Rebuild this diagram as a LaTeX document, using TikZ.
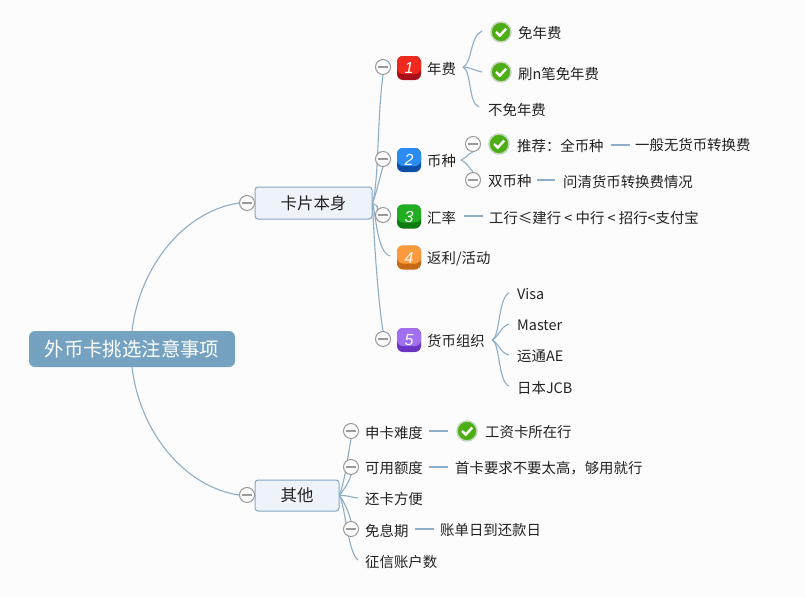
\documentclass[tikz,border=0pt]{standalone}
\usepackage{fontspec}
\setmainfont{Noto Sans CJK SC}
\newfontfamily\numfont{Liberation Sans}
\definecolor{bgc}{HTML}{FCFCFD}
\definecolor{linec}{HTML}{8DAEC6}
\definecolor{rootc}{HTML}{74A2C0}
\definecolor{subc}{HTML}{EEF3F9}
\definecolor{subb}{HTML}{82A8C4}
\definecolor{minusc}{HTML}{9A9A9A}
\definecolor{okc}{HTML}{4CAE14}
\definecolor{okh}{HTML}{C3D6BC}
\definecolor{txt}{HTML}{222222}
\definecolor{rT}{HTML}{EE2A1E}\definecolor{rB}{HTML}{A80F1A}
\definecolor{bT}{HTML}{2A8CF2}\definecolor{bB}{HTML}{0B4FA6}
\definecolor{gT}{HTML}{22AE22}\definecolor{gB}{HTML}{0D7A12}
\definecolor{oT}{HTML}{FA9A3C}\definecolor{oB}{HTML}{C76A18}
\definecolor{pT}{HTML}{A070F0}\definecolor{pB}{HTML}{6A35C0}
\pgfdeclarelayer{lines}
\pgfsetlayers{lines,main}
\tikzset{
  x=1pt,y=-1pt,
  conn/.style={draw=linec,line width=1.1pt},
  stub/.style={draw=linec,line width=1.6pt},
  leaf/.style={anchor=west,inner sep=0pt,text=txt,font=\fontsize{14.4}{16}\selectfont},
  minusbtn/.style={circle,draw=minusc,fill=bgc,line width=1pt,minimum size=15pt,inner sep=0pt,
    path picture={\draw[minusc,line width=1.2pt] ([xshift=-5pt]path picture bounding box.center) -- ([xshift=5pt]path picture bounding box.center);}},
  okicon/.style={circle,draw=okh,fill=okc,line width=1.5pt,minimum size=20pt,inner sep=0pt,
    path picture={\draw[white,line width=2.4pt] ([shift={(-5pt,0pt)}]path picture bounding box.center) -- ([shift={(-1.2pt,-3.6pt)}]path picture bounding box.center) -- ([shift={(5.2pt,3.4pt)}]path picture bounding box.center);}},
  numicon/.style n args={2}{rounded corners=6pt,fill=#2,minimum width=24pt,minimum height=24pt,inner sep=0pt,text=white,
    font=\numfont\itshape\fontsize{16}{16}\selectfont,
    path picture={\fill[#1] (path picture bounding box.north west) rectangle ([yshift=-6pt]path picture bounding box.east);}},
  mainbox/.style={draw=subb,fill=subc,line width=1pt,rounded corners=3pt,inner sep=0pt,text=txt,font=\fontsize{16.4}{18}\selectfont},
}
\begin{document}
\begin{tikzpicture}
\begin{pgfonlayer}{lines}
\path[use as bounding box,fill=bgc] (0,0) rectangle (806,597);
\end{pgfonlayer}
% nodes
\node[rounded corners=6pt,fill=rootc,text=white,minimum width=206pt,minimum height=36pt,inner sep=0pt,font=\fontsize{19.4}{21}\selectfont] (root) at (132,349) {外币卡挑选注意事项};
\node[mainbox,minimum width=117pt,minimum height=32pt] (card) at (313.5,203) {卡片本身};
\node[mainbox,minimum width=84pt,minimum height=31pt] (other) at (297,495.5) {其他};
\node[minusbtn] (cCard) at (247,203) {};
\node[minusbtn] (cOther) at (247,495) {};
% level 2, card
\node[minusbtn] (c1) at (383,67) {};
\node[minusbtn] (c2) at (383,159) {};
\node[minusbtn] (c3) at (383,215) {};
\node[minusbtn] (c5) at (383,339) {};
\coordinate (e4) at (390,256);
\node[numicon={rT}{rB}] (n1) at (409,68) {1};
\node[numicon={bT}{bB}] (n2) at (409,160) {2};
\node[numicon={gT}{gB}] (n3) at (409,216.5) {3};
\node[numicon={oT}{oB}] (n4) at (409,257.5) {4};
\node[numicon={pT}{pB}] (n5) at (409,340) {5};
\node[leaf] (t1) at (427,68.5) {年费};
\node[leaf] (t2) at (427,161.5) {币种};
\node[leaf] (t3) at (427,217.5) {汇率};
\node[leaf] (t4) at (427,258.5) {返利/活动};
\node[leaf] (t5) at (427,340.5) {货币组织};
% annual fee
\coordinate (f1) at (463,67);
\coordinate (e11) at (482,31);
\coordinate (e12) at (482,72);
\coordinate (e13) at (479,107);
\node[okicon] (k11) at (501,32) {};
\node[okicon] (k12) at (501,72) {};
\node[leaf] (t11) at (518,32.5) {免年费};
\node[leaf] (t12) at (518,73.5) {刷n笔免年费};
\node[leaf] (t13) at (488,109.5) {不免年费};
% currency
\coordinate (f2) at (461,160);
\node[minusbtn] (c21) at (473,144) {};
\node[minusbtn] (c22) at (473,180) {};
\node[okicon] (k21) at (499,144) {};
\node[leaf] (t21) at (517,145.5) {推荐：全币种};
\node[leaf] (t22) at (488,181.5) {双币种};
\node[leaf] (t211) at (635,145.5) {一般无货币转换费};
\node[leaf] (t221) at (563,181.5) {问清货币转换费情况};
\coordinate (a21) at (611,145); \coordinate (b21) at (630,145);
\coordinate (a22) at (537,180); \coordinate (b22) at (555,180);
% rate
\coordinate (a3) at (464,216); \coordinate (b3) at (483,216);
\node[leaf] (t31) at (489,217.5) {工行≤建行 < 中行 < 招行<支付宝};
% org
\coordinate (f5) at (492,340);
\coordinate (e51) at (509,293);
\coordinate (e52) at (509,324);
\coordinate (e53) at (509,355);
\coordinate (e54) at (509,386);
\node[leaf] (t51) at (517,294.5) {Visa};
\node[leaf] (t52) at (517,325.5) {Master};
\node[leaf] (t53) at (517,356.5) {运通AE};
\node[leaf] (t54) at (517,388.5) {日本JCB};
% other
\node[minusbtn] (o1) at (351,431) {};
\node[minusbtn] (o2) at (351,467) {};
\node[minusbtn] (o4) at (351,529) {};
\coordinate (e3o) at (358,498);
\coordinate (e5o) at (358,560);
\node[leaf] (p1) at (365,432.5) {申卡难度};
\node[leaf] (p2) at (365,468.5) {可用额度};
\node[leaf] (p3) at (365,499.5) {还卡方便};
\node[leaf] (p4) at (365,530.5) {免息期};
\node[leaf] (p5) at (365,562.5) {征信账户数};
\coordinate (a1o) at (429,431); \coordinate (b1o) at (448,431);
\coordinate (a2o) at (429,467); \coordinate (b2o) at (448,467);
\coordinate (a4o) at (415,529); \coordinate (b4o) at (434,529);
\node[okicon] (kp1) at (467,431) {};
\node[leaf] (p11) at (485,432.5) {工资卡所在行};
\node[leaf] (p21) at (455,468.5) {首卡要求不要太高，够用就行};
\node[leaf] (p41) at (440,530.5) {账单日到还款日};
% connectors
\begin{pgfonlayer}{lines}
\draw[conn] (root.north) .. controls (140,265) and (185,211) .. (cCard.west);
\draw[conn] (root.south) .. controls (140,433) and (185,487) .. (cOther.west);
\draw[conn] (card.east) .. controls (379,180) and (377,120) .. (c1.south);
\draw[conn] (card.east) .. controls (376,195) and (379,180) .. (c2.south);
\draw[conn] (card.east) .. controls (375,206) and (378,204) .. (c3.north west);
\draw[conn] (card.east) .. controls (376,215) and (377,252) .. (e4);
\draw[conn] (card.east) .. controls (374,240) and (378,300) .. (c5.north);
\draw[conn] (f1) .. controls (472,64) and (470,36) .. (e11);
\draw[conn] (f1) .. controls (469,67) and (473,70) .. (e12);
\draw[conn] (f1) .. controls (472,72) and (468,103) .. (e13);
\draw[conn] (f2) .. controls (466,158) and (468,154) .. (c21.south);
\draw[conn] (f2) .. controls (466,162) and (468,166) .. (c22.north);
\draw[stub] (a21) -- (b21);
\draw[stub] (a22) -- (b22);
\draw[stub] (a3) -- (b3);
\draw[conn] (f5) .. controls (500,338) and (498,298) .. (e51);
\draw[conn] (f5) .. controls (498,338) and (500,327) .. (e52);
\draw[conn] (f5) .. controls (498,342) and (500,353) .. (e53);
\draw[conn] (f5) .. controls (500,342) and (498,382) .. (e54);
\draw[conn] (other.east) .. controls (345,480) and (348,455) .. (o1.south);
\draw[conn] (other.east) .. controls (345,488) and (349,482) .. (o2.south);
\draw[conn] (other.east) .. controls (346,495) and (350,497) .. (e3o);
\draw[conn] (other.east) .. controls (344,502) and (348,510) .. (o4.north);
\draw[conn] (other.east) .. controls (345,505) and (348,553) .. (e5o);
\draw[stub] (a1o) -- (b1o);
\draw[stub] (a2o) -- (b2o);
\draw[stub] (a4o) -- (b4o);
\end{pgfonlayer}
\end{tikzpicture}
\end{document}
